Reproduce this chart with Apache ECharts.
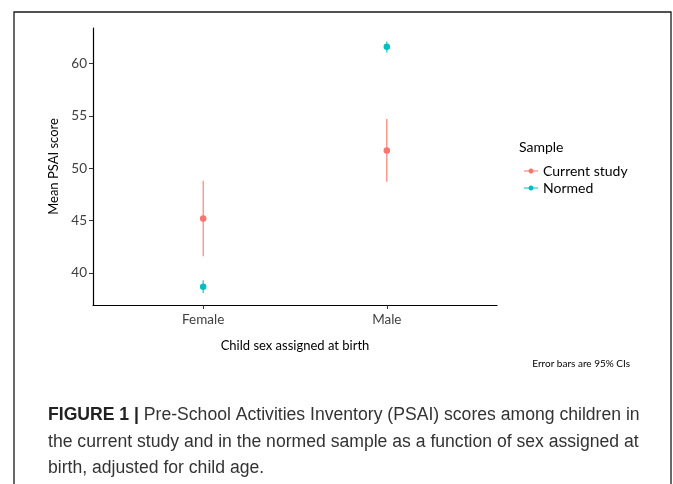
<!DOCTYPE html>
<html>
<head>
<meta charset="utf-8">
<script src="https://cdn.jsdelivr.net/npm/echarts@6/dist/echarts.min.js"></script>
<style>
  html, body { margin: 0; padding: 0; background: #fff; }
  #chart { width: 673px; height: 484px; }
</style>
</head>
<body>
<div id="chart"></div>
<script>
// data
const categories = ["Female", "Male"];
const currentMean = [45.2, 51.7];
const currentLow = [41.6, 48.7];
const currentHigh = [48.8, 54.7];
const normedMean = [38.7, 61.6];
const normedLow = [38.1, 61.05];
const normedHigh = [39.3, 62.1];
const yTicks = [40, 45, 50, 55, 60];

const RED = "#F8766D";
const TEAL = "#00BFC4";
const FONT = "Lato";

const chart = echarts.init(document.getElementById("chart"));

// legend icon: short line with a dot in the middle
const legendIcon =
  "path://M0,4 H4.55 A2.5,2.5 0 0 1 9.45,4 H14 V5 H9.45 A2.5,2.5 0 0 1 4.55,5 H0 Z";

const errorBar = (name, low, high, color) => ({
  name: name,
  type: "custom",
  data: categories.map((c, i) => [i + 1, low[i], high[i]]),
  itemStyle: { color: color },
  renderItem: (params, api) => {
    const top = api.coord([api.value(0), api.value(2)]);
    const bottom = api.coord([api.value(0), api.value(1)]);
    return {
      type: "line",
      shape: { x1: top[0], y1: top[1], x2: bottom[0], y2: bottom[1] },
      style: { stroke: color, lineWidth: 1.1 },
    };
  },
  z: 2,
  silent: true,
});

const points = (name, mean, color) => ({
  name: name,
  type: "scatter",
  data: categories.map((c, i) => [i + 1, mean[i]]),
  symbolSize: 6.5,
  itemStyle: { color: color, opacity: 1 },
  z: 3,
});

const option = {
  animation: false,
  color: [RED, TEAL],
  textStyle: { fontFamily: FONT },
  grid: { left: 93, right: 176, top: 28, bottom: 179 },
  xAxis: {
    type: "value",
    min: 0.4,
    max: 2.6,
    name: "Child sex assigned at birth",
    nameLocation: "middle",
    nameGap: 34,
    nameTextStyle: { fontFamily: FONT, fontSize: 13, color: "#000" },
    splitLine: { show: false },
    axisLine: { show: true, lineStyle: { color: "#000", width: 1.2 } },
    axisTick: {
      show: true,
      customValues: [1, 2],
      length: 4,
      lineStyle: { color: "#333" },
    },
    axisLabel: {
      customValues: [1, 2],
      formatter: (v) => categories[Math.round(v) - 1],
      fontFamily: FONT,
      fontSize: 13.5,
      color: "#404040",
      margin: 8,
    },
  },
  yAxis: {
    type: "value",
    min: 36.95,
    max: 63.38,
    name: "Mean PSAI score",
    nameLocation: "middle",
    nameGap: 26,
    nameRotate: 90,
    nameTextStyle: { fontFamily: FONT, fontSize: 13, color: "#000" },
    splitLine: { show: false },
    axisLine: { show: true, lineStyle: { color: "#000", width: 1.2 } },
    axisTick: {
      show: true,
      customValues: yTicks,
      length: 4,
      lineStyle: { color: "#333" },
    },
    axisLabel: {
      customValues: yTicks,
      fontFamily: FONT,
      fontSize: 13.5,
      color: "#404040",
      margin: 6,
    },
  },
  legend: {
    orient: "vertical",
    left: 519,
    top: 159,
    itemWidth: 14,
    itemHeight: 5,
    itemGap: 3,
    data: [
      { name: "Current study", icon: legendIcon, itemStyle: { color: RED } },
      { name: "Normed", icon: legendIcon, itemStyle: { color: TEAL } },
    ],
    textStyle: { fontFamily: FONT, fontSize: 14, color: "#000" },
    selectedMode: false,
  },
  graphic: [
    {
      type: "rect",
      shape: { x: 14, y: 12, width: 657, height: 520 },
      style: { fill: "none", stroke: "#1a1a1a", lineWidth: 1.3 },
      silent: true,
    },
    {
      type: "text",
      left: 519,
      top: 140,
      style: { text: "Sample", font: "14px " + FONT, fill: "#000" },
    },
    {
      type: "text",
      right: 43,
      top: 359,
      style: { text: "Error bars are 95% CIs", font: "10px " + FONT, fill: "#000" },
    },
    {
      type: "text",
      left: 48,
      top: 402,
      style: {
        text:
          "{b|FIGURE 1 |} Pre-School Activities Inventory (PSAI) scores among children in\n" +
          "the current study and in the normed sample as a function of sex assigned at\n" +
          "birth, adjusted for child age.",
        font: "17.6px 'Liberation Sans'",
        fill: "#333",
        lineHeight: 26.5,
        rich: {
          b: { font: "bold 17.6px 'Liberation Sans'", fill: "#222", lineHeight: 26.5 },
        },
      },
    },
  ],
  series: [
    errorBar("Current study", currentLow, currentHigh, RED),
    errorBar("Normed", normedLow, normedHigh, TEAL),
    points("Current study", currentMean, RED),
    points("Normed", normedMean, TEAL),
  ],
};

chart.setOption(option);
</script>
</body>
</html>
